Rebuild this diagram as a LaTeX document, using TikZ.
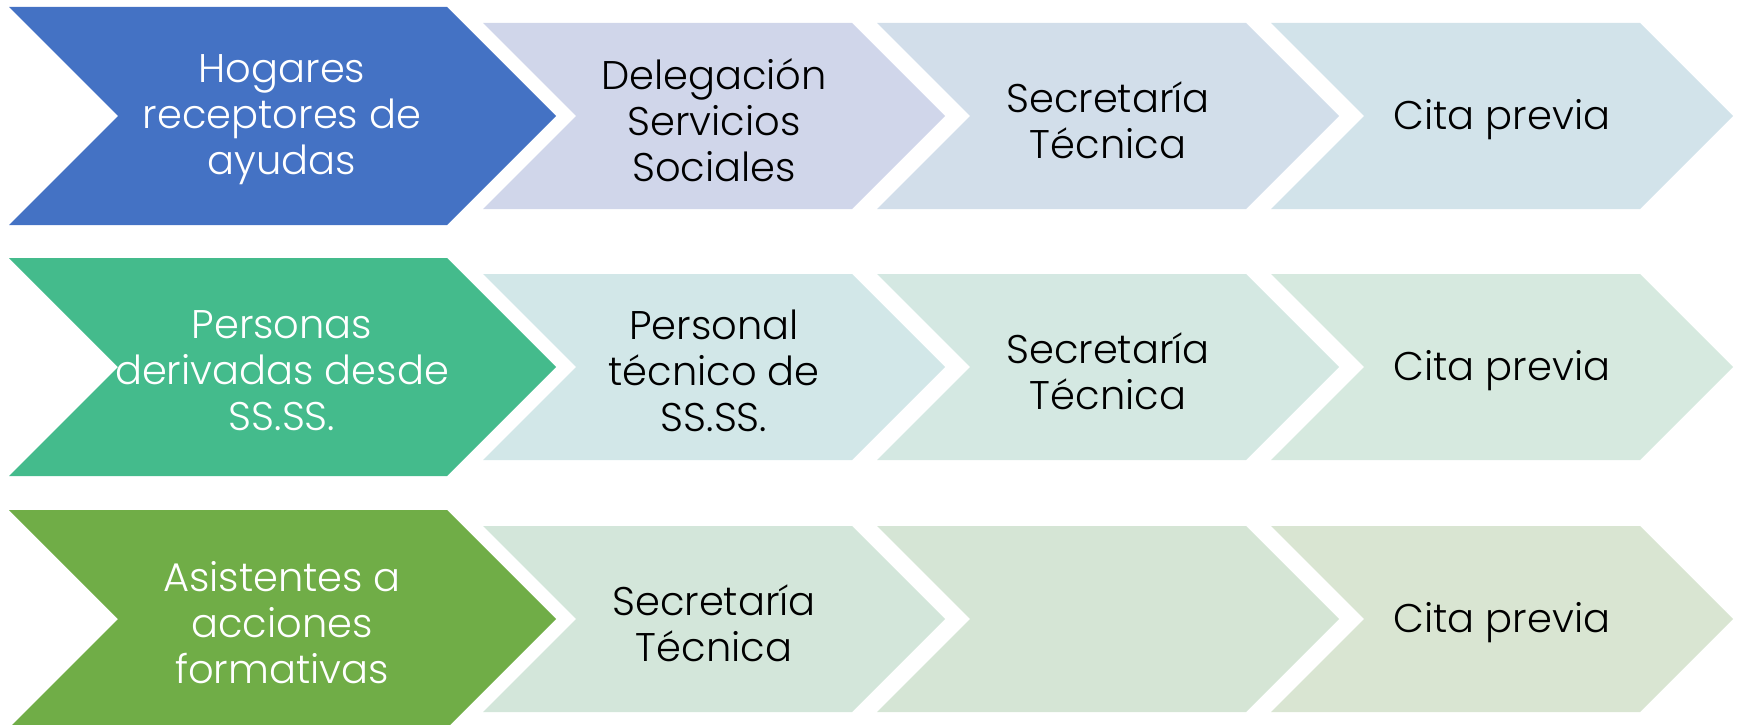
\documentclass[tikz,border=0pt]{standalone}
\usepackage{fontspec}
\setmainfont{Poppins}[UprightFont=* Light]
\definecolor{bigA}{HTML}{4472C4}
\definecolor{bigB}{HTML}{44BB8C}
\definecolor{bigC}{HTML}{70AD47}
\definecolor{aTwo}{HTML}{D0D6EA}
\definecolor{aThree}{HTML}{D2DEEA}
\definecolor{aFour}{HTML}{D2E3EA}
\definecolor{bTwo}{HTML}{D2E7E8}
\definecolor{bThree}{HTML}{D4E8E2}
\definecolor{bFour}{HTML}{D6E9DF}
\definecolor{cTwo}{HTML}{D3E6DA}
\definecolor{cThree}{HTML}{D5E5D5}
\definecolor{cFour}{HTML}{D9E5D2}
\newcommand\chevshape[5]{%
  \fill[#5] (#1,{#2-#4}) -- (#3,{#2-#4}) -- ({#3+#4},#2) -- (#3,{#2+#4}) -- (#1,{#2+#4}) -- ({#1+#4},#2) -- cycle;}
\tikzset{
  lbl/.style={align=center,font=\fontsize{40}{46}\selectfont,inner sep=0pt},
  lblw/.style={lbl,text=white},
  lblk/.style={lbl,text=black}
}
\begin{document}
\begin{tikzpicture}[x=1pt,y=-1pt]
\useasboundingbox (0,0) rectangle (1738,725);
% row 1
\chevshape{9}{116}{447}{109}{bigA}
\chevshape{483}{116}{852}{93}{aTwo}
\chevshape{877}{116}{1246}{93}{aThree}
\chevshape{1271}{116}{1640}{93}{aFour}
% row 2
\chevshape{9}{367}{447}{109}{bigB}
\chevshape{483}{367}{852}{93}{bTwo}
\chevshape{877}{367}{1246}{93}{bThree}
\chevshape{1271}{367}{1640}{93}{bFour}
% row 3
\chevshape{9}{619}{447}{109}{bigC}
\chevshape{483}{619}{852}{93}{cTwo}
\chevshape{877}{619}{1246}{93}{cThree}
\chevshape{1271}{619}{1640}{93}{cFour}
% labels
\node[lblw] (r1a) at (282,120) {Hogares\\receptores de\\ayudas};
\node[lblk] (r1b) at (714,120) {Delegación\\Servicios\\Sociales};
\node[lblk] (r1c) at (1108,120) {Secretaría\\Técnica};
\node[lblk] (r1d) at (1502,120) {Cita previa};
\node[lblw] (r2a) at (282,371) {Personas\\derivadas desde\\SS.SS.};
\node[lblk] (r2b) at (714,371) {Personal\\técnico de\\SS.SS.};
\node[lblk] (r2c) at (1108,371) {Secretaría\\Técnica};
\node[lblk] (r2d) at (1502,371) {Cita previa};
\node[lblw] (r3a) at (282,623) {Asistentes a\\acciones\\formativas};
\node[lblk] (r3b) at (714,623) {Secretaría\\Técnica};
\node[lblk] (r3d) at (1502,623) {Cita previa};
\end{tikzpicture}
\end{document}
